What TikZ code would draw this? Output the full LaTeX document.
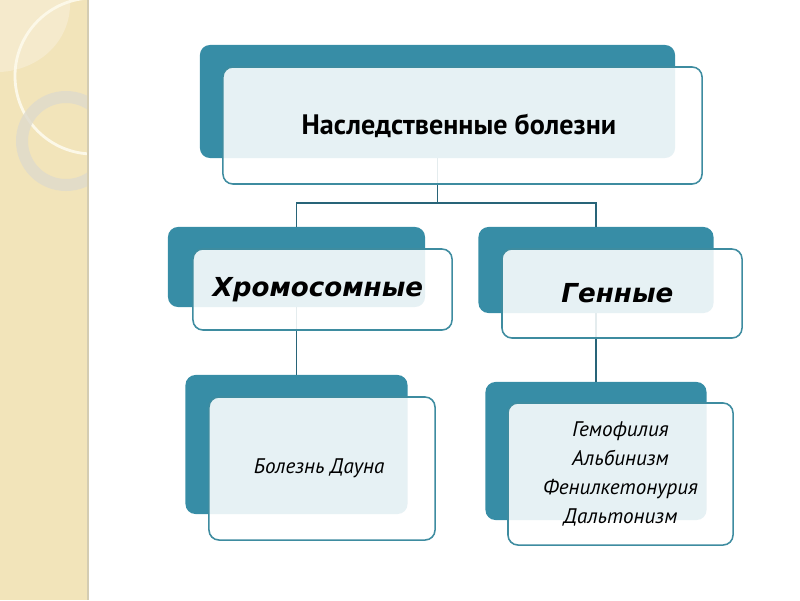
\documentclass[tikz,border=0pt]{standalone}
\usepackage{fontspec}
\setmainfont{PT Sans}
\newfontfamily\verdfont{DejaVu Sans}
\usetikzlibrary{positioning}
\definecolor{boxteal}{RGB}{55,141,166}
\definecolor{edgeteal}{RGB}{62,140,160}
\definecolor{linkteal}{RGB}{40,100,120}
\definecolor{sand}{RGB}{242,228,186}
\definecolor{sandlight}{RGB}{245,234,204}
\definecolor{sandedge}{RGB}{212,204,178}
\definecolor{cream}{RGB}{252,248,232}
\definecolor{ringgray}{RGB}{222,218,204}

\begin{document}
\begin{tikzpicture}[
            x=0.025cm, y=-0.025cm,
            back/.style={fill=boxteal, rounded corners=0.25cm, inner sep=0pt},
            front/.style={draw=edgeteal, line width=1.1pt, fill=white, fill opacity=0.88, text opacity=1, rounded corners=0.25cm, align=center, inner sep=0pt},
            link/.style={draw=linkteal, line width=1.1pt}
        ]
            \useasboundingbox (0,0) rectangle (800,600);
            % side strip
            \fill[sand] (0,0) rectangle (88,600);
            \begin{scope}
                \clip (0,0) rectangle (88,600);
                \fill[sandlight] (0,0) -- (70,0) .. controls (72,40) and (40,70) .. (0,72) -- cycle;
                \draw[cream, line width=2pt] (93,76) circle (78);
                \fill[ringgray, fill opacity=0.8, even odd rule] (66,141) circle (50) (66,141) circle (38);
            \end{scope}
            \draw[sandedge, line width=1.2pt] (88,0) -- (88,600);
            % back boxes
            \node[back, minimum width=11.875cm, minimum height=2.825cm] (topback) at (437.5,101.5) {};
            \node[back, minimum width=6.425cm, minimum height=2cm] (chromback) at (296.5,267) {};
            \node[back, minimum width=5.875cm, minimum height=2.15cm] (geneback) at (596,270) {};
            \node[back, minimum width=5.55cm, minimum height=3.475cm] (downback) at (296.5,444.5) {};
            \node[back, minimum width=5.525cm, minimum height=3.45cm] (listback) at (596,451) {};
            % connectors
            \coordinate (split) at (437.5,203);
            \draw[link] (topback.south) -- (split) -| (chromback.north);
            \draw[link] (split) -| (geneback.north);
            \draw[link] (chromback.south) -- (downback.north);
            \draw[link] (geneback.south) -- (listback.north);
            % front boxes
            \node[front, minimum width=11.975cm, minimum height=2.925cm, font=\bfseries\fontsize{20}{24}\selectfont] (top) at (462.5,125.5) {
                Наследственные болезни
            };
            \node[front, minimum width=6.475cm, minimum height=2.025cm, font=\verdfont\bfseries\itshape\fontsize{18.6}{22}\selectfont] (chrom) at (322.5,289.5) {
                Хромосомные
            };
            \node[front, minimum width=6cm, minimum height=2.225cm, font=\verdfont\bfseries\itshape\fontsize{18.6}{22}\selectfont] (gene) at (622,293.5) {
                Генные
            };
            \node[front, minimum width=5.65cm, minimum height=3.575cm, font=\itshape\fontsize{15}{20.8}\selectfont] (down) at (322,468.5) {
                Болезнь Дауна
            };
            \node[front, minimum width=5.625cm, minimum height=3.55cm, font=\itshape\fontsize{15}{20.8}\selectfont] (list) at (620.5,474) {
                Гемофилия\\Альбинизм\\Фенилкетонурия\\Дальтонизм
            };
        \end{tikzpicture}
\end{document}
